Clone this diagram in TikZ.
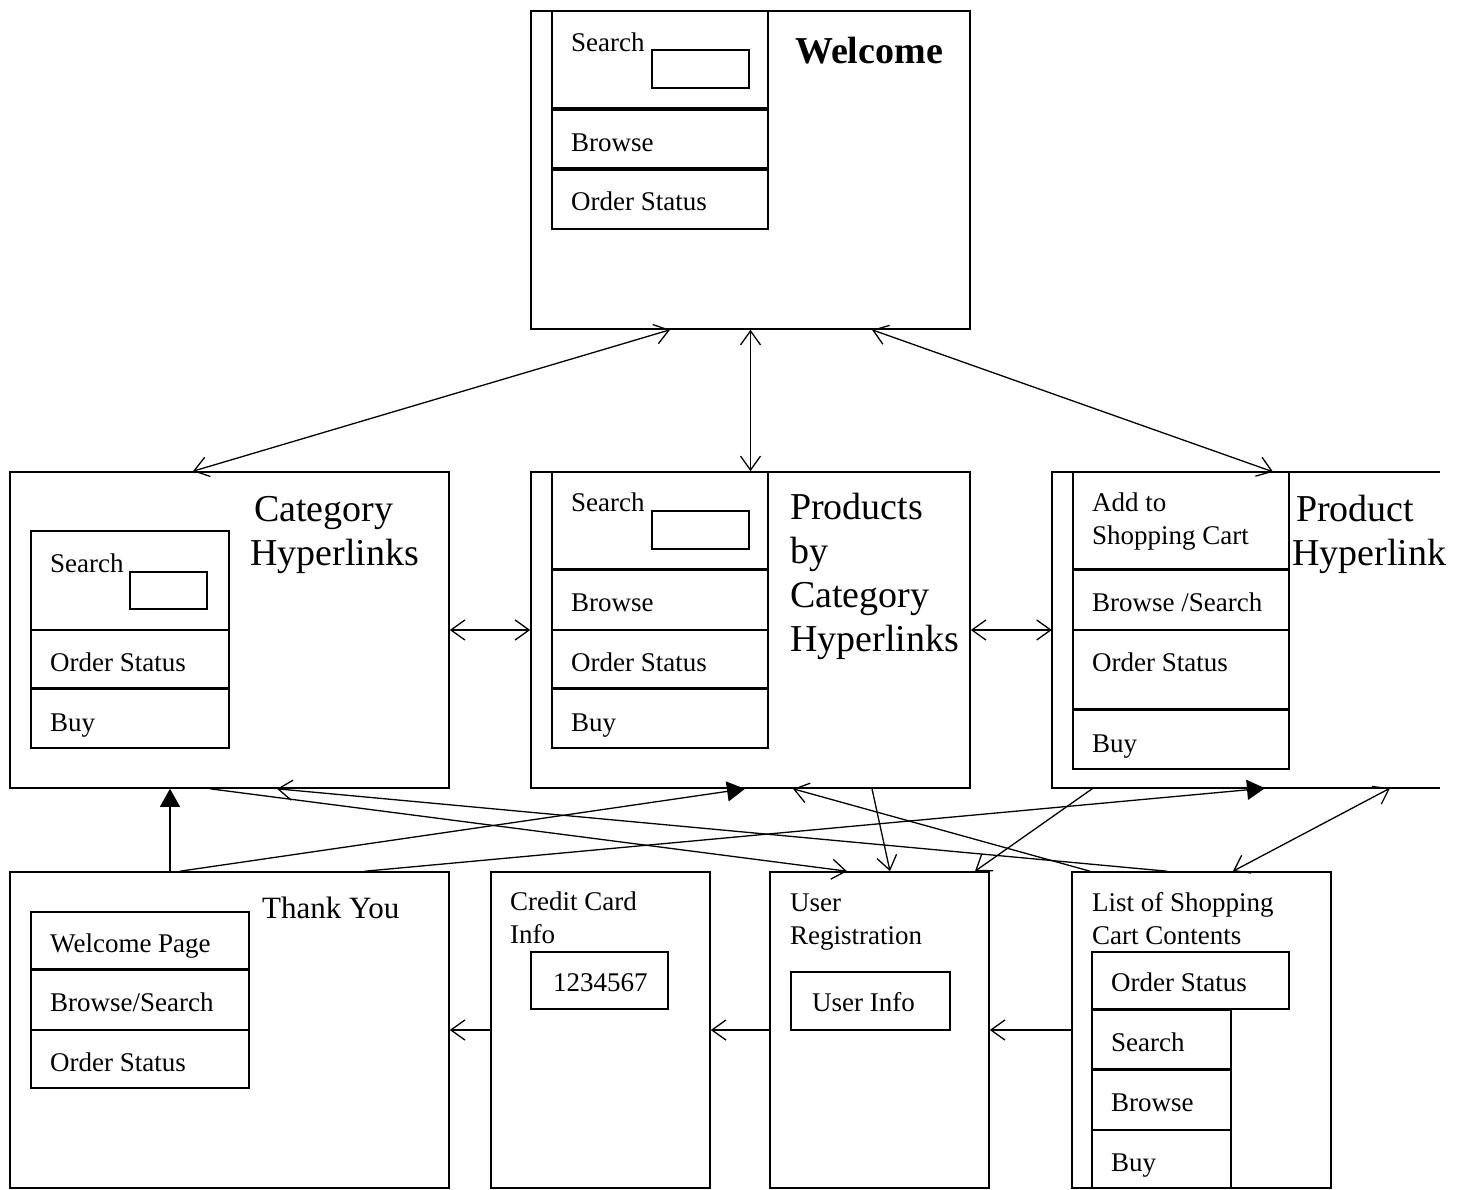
\documentclass[tikz,border=0pt]{standalone}
\usepackage{fontspec}
\setmainfont{Liberation Serif}
\usetikzlibrary{arrows.meta,fit}

\begin{document}
\begin{tikzpicture}[x=1pt,y=-1pt,
  page/.style={draw=black, line width=1.6pt, inner sep=0pt},
  cell/.style={draw=black, line width=1.6pt, inner sep=0pt},
  rule/.style={line width=3.4pt},
  lbl/.style={anchor=base west, inner sep=0pt, align=left, font=\fontsize{27}{33}\selectfont},
  head/.style={anchor=base west, inner sep=0pt, align=left, font=\fontsize{38}{44}\selectfont},
  link/.style={line width=1.3pt, -{Straight Barb[length=14pt,width=20pt]}},
  twoway/.style={line width=1.3pt, {Straight Barb[length=14pt,width=20pt]}-{Straight Barb[length=14pt,width=20pt]}},
  solidlink/.style={line width=1.3pt, -{Triangle[length=18pt,width=20pt]}}]
\useasboundingbox (0,0) rectangle (1460,1190);

% welcome page
\node[page, fit={(531,11) (970,329)}] (welcome) {};
\node[cell, fit={(552,11) (768,110)}] (wsearch) {};
\node[cell, fit={(552,110) (768,170)}] (wbrowse) {};
\node[cell, fit={(552,170) (768,229)}] (wstatus) {};
\node[cell, fit={(652,50) (749,88)}] (wfield) {};
\draw[rule] (wbrowse.north west) -- (wbrowse.north east);
\draw[rule] (wstatus.north west) -- (wstatus.north east);
\node[lbl] (wsearchtxt) at (571,52) {Search};
\node[lbl] (wbrowsetxt) at (571,152) {Browse};
\node[lbl] (wstatustxt) at (571,211) {Order Status};
\node[head, font=\fontsize{38}{44}\selectfont\bfseries] (wtitle) at (795,64) {Welcome};

% category page
\node[page, fit={(10,472) (449,788)}] (cat) {};
\node[cell, fit={(31,531) (229,630)}] (csearch) {};
\node[cell, fit={(31,630) (229,689)}] (cstatus) {};
\node[cell, fit={(31,689) (229,748)}] (cbuy) {};
\node[cell, fit={(130,572) (207,609)}] (cfield) {};
\draw[rule] (cbuy.north west) -- (cbuy.north east);
\node[lbl] (csearchtxt) at (50,572) {Search};
\node[lbl] (cstatustxt) at (50,671) {Order Status};
\node[lbl] (cbuytxt) at (50,731) {Buy};
\node[head] (ctitle) at (250,565) {\hspace*{4pt}Category\\Hyperlinks};

% products page
\node[page, fit={(531,472) (970,788)}] (prod) {};
\node[cell, fit={(552,472) (768,570)}] (psearch) {};
\node[cell, fit={(552,570) (768,630)}] (pbrowse) {};
\node[cell, fit={(552,630) (768,689)}] (pstatus) {};
\node[cell, fit={(552,689) (768,748)}] (pbuy) {};
\node[cell, fit={(652,511) (749,549)}] (pfield) {};
\draw[rule] (pbrowse.north west) -- (pbrowse.north east);
\draw[rule] (pbuy.north west) -- (pbuy.north east);
\node[lbl] (psearchtxt) at (571,511) {Search};
\node[lbl] (pbrowsetxt) at (571,611) {Browse};
\node[lbl] (pstatustxt) at (571,671) {Order Status};
\node[lbl] (pbuytxt) at (571,731) {Buy};
\node[head] (ptitle) at (790,651) {Products\\by\\Category\\Hyperlinks};

% product hyperlink page
\node[inner sep=0pt, fit={(1052,472) (1440,788)}] (prodhyp) {};
\draw[line width=1.6pt] (prodhyp.north east) -| (prodhyp.south west) -- (prodhyp.south east);
\node[cell, fit={(1073,472) (1289,570)}] (hadd) {};
\node[cell, fit={(1073,570) (1289,630)}] (hbrowse) {};
\node[cell, fit={(1073,630) (1289,710)}] (hstatus) {};
\node[cell, fit={(1073,710) (1289,769)}] (hbuy) {};
\draw[rule] (hbrowse.north west) -- (hbrowse.north east);
\draw[rule] (hbuy.north west) -- (hbuy.north east);
\node[lbl] (haddtxt) at (1092,544) {Add to\\Shopping Cart};
\node[lbl] (hbrowsetxt) at (1092,611) {Browse /Search};
\node[lbl] (hstatustxt) at (1092,671) {Order Status};
\node[lbl] (hbuytxt) at (1092,752) {Buy};
\node[head] (htitle) at (1292,565) {\hspace*{4pt}Product\\Hyperlink};

% thank you page
\node[page, fit={(10,872) (449,1188)}] (thanks) {};
\node[cell, fit={(31,912) (249,970)}] (twelcome) {};
\node[cell, fit={(31,970) (249,1030)}] (tbrowse) {};
\node[cell, fit={(31,1030) (249,1088)}] (tstatus) {};
\draw[rule] (tbrowse.north west) -- (tbrowse.north east);
\node[lbl] (twelcometxt) at (50,952) {Welcome Page};
\node[lbl] (tbrowsetxt) at (50,1011) {Browse/Search};
\node[lbl] (tstatustxt) at (50,1071) {Order Status};
\node[lbl, font=\fontsize{31}{36}\selectfont] (ttitle) at (262,918) {Thank You};

% credit card page
\node[page, fit={(491,872) (710,1188)}] (credit) {};
\node[lbl] (ctxt) at (510,943) {Credit Card\\Info};
\node[cell, fit={(531,952) (668,1009)}] (cnumber) {};
\node[lbl] (cnumbertxt) at (553,991) {1234567};

% user registration page
\node[page, fit={(770,872) (989,1188)}] (ureg) {};
\node[lbl] (utxt) at (790,944) {User\\Registration};
\node[cell, fit={(791,972) (950,1030)}] (uinfo) {};
\node[lbl] (uinfotxt) at (812,1011) {User Info};

% shopping cart page
\node[page, fit={(1072,872) (1331,1188)}] (cart) {};
\node[lbl] (ltxt) at (1092,944) {List of Shopping\\Cart Contents};
\node[cell, fit={(1092,952) (1289,1009)}] (lstatus) {};
\node[cell, fit={(1092,1010) (1231,1070)}] (lsearch) {};
\node[cell, fit={(1092,1070) (1231,1130)}] (lbrowse) {};
\node[cell, fit={(1092,1130) (1231,1188)}] (lbuy) {};
\draw[rule] (lsearch.north west) -- (lsearch.north east);
\draw[rule] (lbrowse.north west) -- (lbrowse.north east);
\node[lbl] (lstatustxt) at (1111,991) {Order Status};
\node[lbl] (lsearchtxt) at (1111,1051) {Search};
\node[lbl] (lbrowsetxt) at (1111,1111) {Browse};
\node[lbl] (lbuytxt) at (1111,1171) {Buy};

% top links
\draw[twoway] ([xshift=-80.5pt]welcome.south) -- ([xshift=-36.5pt]cat.north);
\draw[twoway] (welcome.south) -- (prod.north);
\draw[twoway] ([xshift=121.5pt]welcome.south) -- ([xshift=27pt]prodhyp.north);
\draw[twoway] (cat.east) -- (prod.west);
\draw[twoway] (prod.east) -- (prodhyp.west);

% bottom links
\draw[solidlink] ([xshift=-59.5pt]thanks.north) -- ([xshift=-59.5pt]cat.south);
\draw[solidlink] ([xshift=-49.5pt]thanks.north) -- ([xshift=-5.5pt]prod.south);
\draw[solidlink] ([xshift=135.5pt]thanks.north) -- ([xshift=19pt]prodhyp.south);
\draw[link] ([xshift=-19.5pt]cat.south) -- ([xshift=-32.5pt]ureg.north);
\draw[link] ([xshift=-34.5pt]cart.north) -- ([xshift=47.5pt]cat.south);
\draw[link] ([xshift=-111.5pt]cart.north) -- ([xshift=42.5pt]prod.south);
\draw[link] ([xshift=121.5pt]prod.south) -- ([xshift=10.5pt]ureg.north);
\draw[link] ([xshift=-153pt]prodhyp.south) -- ([xshift=95.5pt]ureg.north);
\draw[twoway] ([xshift=31.5pt]cart.north) -- ([xshift=144pt]prodhyp.south);
\draw[link] (credit.west) -- (thanks.east);
\draw[link] (ureg.west) -- (credit.east);
\draw[link] (cart.west) -- (ureg.east);
\end{tikzpicture}
\end{document}
